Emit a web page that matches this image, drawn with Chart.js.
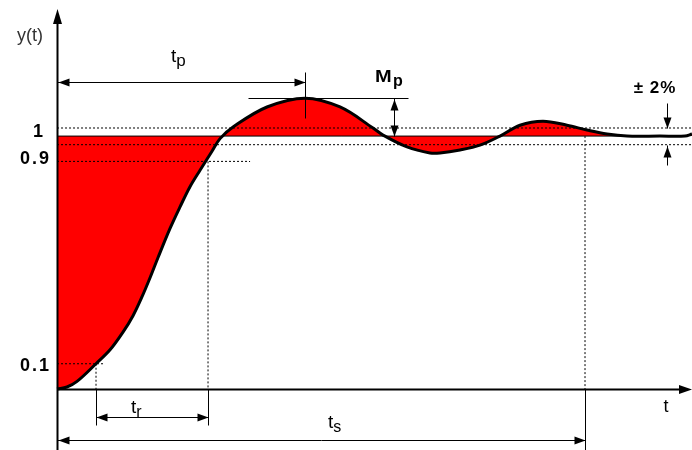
<!DOCTYPE html>
<html>
<head>
<meta charset="utf-8">
<script src="https://cdn.jsdelivr.net/npm/chart.js@4/dist/chart.umd.min.js"></script>
<style>
  html, body { margin: 0; padding: 0; background: #fff; }
  #wrap { width: 692px; height: 450px; position: relative; }
</style>
</head>
<body>
<div id="wrap"><canvas id="chart"></canvas></div>
<script>
// step response (time in arbitrary units)
const timeValues = [0, 0.157, 0.315, 0.614, 0.835, 1.039, 1.197, 1.339, 1.465, 1.591, 1.780, 1.937, 2.094, 2.252, 2.441,
    2.567, 2.772, 3.307, 3.906, 4.457, 4.976, 5.134, 5.512, 5.874, 6.031, 6.346, 6.661, 6.976, 7.291, 7.654,
    8.031, 8.346, 8.661, 8.976, 9.496, 9.890, 10];
const responseValues = [0, 0.008, 0.03, 0.1, 0.155, 0.225, 0.29, 0.365, 0.44, 0.52, 0.635, 0.72, 0.80, 0.865, 0.94,
    0.99, 1.036, 1.115, 1.150, 1.115, 1.032, 1.004, 0.957, 0.933, 0.933, 0.945, 0.964, 1.0, 1.043, 1.059,
    1.043, 1.024, 1.008, 1.0, 1.0, 1.0, 1.008];

// levels and times marked on the figure
const levelLabels = ['1', '0.9', '0.1'];
const levelValues = [1, 0.9, 0.1];
const bandValues = [1.032, 0.966];   // the "± 2%" band as drawn
const riseTimes = [0.614, 2.378];    // t_r from 10% to 90%
const peakTime = 3.906;              // t_p
const peakValue = 1.15;              // M_p level
const settleTime = 8.315;            // t_s

const curve = timeValues.map((t, i) => ({ x: t, y: responseValues[i] }));

function seg(x1, y1, x2, y2) {
    return [{ x: x1, y: y1 }, { x: x2, y: y2 }];
}

const dotted = { borderColor: '#000', borderWidth: 1, borderDash: [2, 2], fill: false, tension: 0, order: 3 };

const datasets = [
    { data: curve, borderWidth: 0, backgroundColor: '#ff0000', fill: { value: 1 }, tension: 0.35, order: 5 },
    { ...dotted, data: seg(0, bandValues[0], 10, bandValues[0]) },
    { ...dotted, data: seg(0, bandValues[1], 10, bandValues[1]) },
    { ...dotted, data: seg(0, levelValues[1], 3.04, levelValues[1]) },
    { ...dotted, data: seg(0, levelValues[2], 0.756, levelValues[2]) },
    { ...dotted, data: seg(riseTimes[0], levelValues[2], riseTimes[0], 0) },
    { ...dotted, data: seg(riseTimes[1], levelValues[1], riseTimes[1], 0) },
    { ...dotted, data: seg(settleTime, levelValues[0], settleTime, 0) },
    { data: seg(0, 1, 8.976, 1), borderColor: '#000', borderWidth: 1, fill: false, order: 2 },
    { data: curve, borderColor: '#000', borderWidth: 3, fill: false, tension: 0.35, order: 1 }
];

function arrowHead(ctx, x, y, dir, len = 11, half = 4) {
    ctx.beginPath();
    if (dir === 'left') { ctx.moveTo(x, y); ctx.lineTo(x + len, y - half); ctx.lineTo(x + len, y + half); }
    if (dir === 'right') { ctx.moveTo(x, y); ctx.lineTo(x - len, y - half); ctx.lineTo(x - len, y + half); }
    if (dir === 'up') { ctx.moveTo(x, y); ctx.lineTo(x - half, y + len); ctx.lineTo(x + half, y + len); }
    if (dir === 'down') { ctx.moveTo(x, y); ctx.lineTo(x - half, y - len); ctx.lineTo(x + half, y - len); }
    ctx.closePath();
    ctx.fill();
}

function line(ctx, x1, y1, x2, y2) {
    ctx.beginPath();
    ctx.moveTo(x1, y1);
    ctx.lineTo(x2, y2);
    ctx.stroke();
}

const FONT = '"Liberation Sans", Arial, sans-serif';

function subText(ctx, main, sub, x, y, size, subSize, weight, drop = 4) {
    ctx.font = weight + ' ' + size + 'px ' + FONT;
    ctx.textAlign = 'left';
    ctx.textBaseline = 'alphabetic';
    ctx.fillText(main, x, y);
    const w = ctx.measureText(main).width;
    ctx.font = weight + ' ' + subSize + 'px ' + FONT;
    ctx.fillText(sub, x + w, y + drop);
}

const annotate = {
    id: 'annotate',
    afterDraw(chart) {
        const { ctx, scales: { x, y } } = chart;
        const X = v => Math.round(x.getPixelForValue(v)) + 0.5;
        const Y = v => Math.round(y.getPixelForValue(v)) + 0.5;
        const x0 = X(0), y0 = Y(0);
        ctx.save();
        ctx.strokeStyle = '#000';
        ctx.fillStyle = '#000';

        // axes
        ctx.lineWidth = 2;
        line(ctx, x0, 14, x0, 450);
        line(ctx, x0, y0, 684, y0);
        arrowHead(ctx, x0, 9, 'up', 15, 4.5);
        arrowHead(ctx, 692, y0, 'right', 13, 4.5);

        ctx.lineWidth = 1;
        // solid extensions below the axis
        line(ctx, X(riseTimes[0]), y0, X(riseTimes[0]), y0 + 36);
        line(ctx, X(riseTimes[1]), y0, X(riseTimes[1]), y0 + 36);
        line(ctx, X(settleTime), y0, X(settleTime), 450);

        // t_r arrow
        const yr = y0 + 28;
        line(ctx, X(riseTimes[0]), yr, X(riseTimes[1]), yr);
        arrowHead(ctx, X(riseTimes[0]), yr, 'left');
        arrowHead(ctx, X(riseTimes[1]), yr, 'right');

        // t_s arrow
        const ys = y0 + 51;
        line(ctx, x0, ys, X(settleTime), ys);
        arrowHead(ctx, x0 + 1, ys, 'left');
        arrowHead(ctx, X(settleTime), ys, 'right');

        // t_p arrow and peak markers
        const yp = Y(1.213);
        line(ctx, x0, yp, X(peakTime), yp);
        arrowHead(ctx, x0 + 1, yp, 'left');
        arrowHead(ctx, X(peakTime), yp, 'right');
        line(ctx, X(peakTime), Y(1.253), X(peakTime), Y(1.071));
        line(ctx, X(3.008), Y(peakValue), X(5.528), Y(peakValue));

        // M_p arrow
        const xm = X(5.307);
        line(ctx, xm, Y(peakValue), xm, Y(1));
        arrowHead(ctx, xm, Y(peakValue) + 1, 'up');
        arrowHead(ctx, xm, Y(1), 'down');

        // ± 2% arrows
        const xb = X(9.606);
        line(ctx, xb, Y(1.13), xb, Y(bandValues[0]));
        arrowHead(ctx, xb, Y(bandValues[0]), 'down');
        line(ctx, xb, Y(0.885), xb, Y(bandValues[1]));
        arrowHead(ctx, xb, Y(bandValues[1]) + 1, 'up');

        // texts
        ctx.textBaseline = 'middle';
        ctx.textAlign = 'center';
        ctx.font = '18px ' + FONT;
        ctx.fillStyle = '#333';
        ctx.fillText('y(t)', 30, 36);
        ctx.fillStyle = '#000';

        ctx.font = 'bold 18px ' + FONT;
        ctx.textAlign = 'right';
        ctx.letterSpacing = '2px';
        ctx.fillText(levelLabels[0], 45, Y(levelValues[0]) - 4);
        ctx.fillText(levelLabels[1], 51, Y(levelValues[1]) - 2);
        ctx.fillText(levelLabels[2], 51, Y(levelValues[2]) + 2);

        ctx.textAlign = 'center';
        ctx.letterSpacing = '1px';
        ctx.font = 'bold 17px ' + FONT;
        ctx.fillText('± 2%', 655, 88);
        ctx.letterSpacing = '0px';
        ctx.font = '18px ' + FONT;
        ctx.fillText('t', 666, 407);

        subText(ctx, 't', 'p', 171, 62, 19, 17, 'normal');
        // M drawn a bit wider like the original bitmap font
        ctx.save();
        ctx.translate(375, 82);
        ctx.scale(1.25, 1);
        ctx.font = 'bold 16px ' + FONT;
        ctx.textAlign = 'left';
        ctx.textBaseline = 'alphabetic';
        ctx.fillText('M', 0, 0);
        ctx.restore();
        ctx.font = 'bold 16px ' + FONT;
        ctx.textAlign = 'left';
        ctx.textBaseline = 'alphabetic';
        ctx.fillText('p', 393, 86);

        subText(ctx, 't', 'r', 131, 413, 19, 16, 'normal');
        subText(ctx, 't', 's', 328, 428, 19, 16, 'normal');
        ctx.restore();
    }
};

new Chart(document.getElementById('chart'), {
    type: 'line',
    data: { datasets },
    options: {
        responsive: true,
        maintainAspectRatio: false,
        animation: false,
        events: [],
        layout: { padding: 0 },
        plugins: { legend: { display: false }, tooltip: { enabled: false } },
        elements: { point: { radius: 0 } },
        scales: {
            x: { type: 'linear', min: -0.898, max: 10, display: false },
            y: { min: -0.241, max: 1.538, display: false }
        }
    },
    plugins: [annotate]
});
</script>
</body>
</html>
